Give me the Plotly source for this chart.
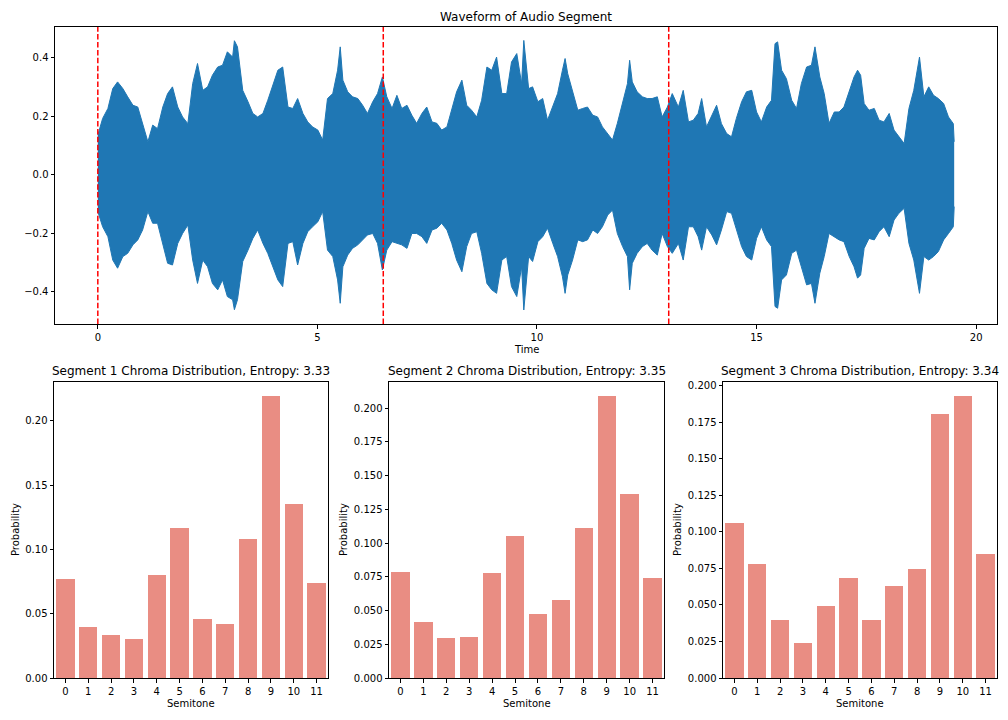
import plotly.graph_objects as go
from plotly.subplots import make_subplots

# ---------------- data ----------------
# waveform envelope (time in s, upper / lower amplitude)
wave_t = [0.00, 0.11, 0.23, 0.34, 0.45, 0.57, 0.68, 0.80, 0.91, 1.02, 1.14, 1.25, 1.36, 1.48, 1.59,
          1.70, 1.82, 1.93, 2.05, 2.16, 2.27, 2.39, 2.50, 2.61, 2.73, 2.84, 2.95, 3.07, 3.11, 3.18,
          3.30, 3.42, 3.53, 3.64, 3.76, 3.87, 3.99, 4.10, 4.21, 4.33, 4.44, 4.55, 4.67, 4.78, 4.89,
          5.01, 5.12, 5.23, 5.35, 5.46, 5.52, 5.58, 5.69, 5.80, 5.92, 6.03, 6.14, 6.26, 6.37, 6.48,
          6.58, 6.70, 6.81, 6.92, 7.04, 7.15, 7.26, 7.38, 7.49, 7.61, 7.72, 7.83, 7.95, 8.06, 8.17,
          8.29, 8.40, 8.51, 8.63, 8.74, 8.86, 8.97, 9.08, 9.20, 9.31, 9.42, 9.54, 9.65, 9.70, 9.81,
          9.90, 10.02, 10.13, 10.24, 10.36, 10.47, 10.58, 10.64, 10.70, 10.81, 10.93, 11.04, 11.15,
          11.27, 11.38, 11.49, 11.61, 11.72, 11.83, 11.95, 12.06, 12.11, 12.17, 12.28, 12.40, 12.51,
          12.62, 12.74, 12.85, 12.97, 13.08, 13.22, 13.33, 13.45, 13.56, 13.67, 13.75, 13.86, 13.98,
          14.09, 14.20, 14.32, 14.43, 14.54, 14.66, 14.77, 14.89, 15.00, 15.11, 15.23, 15.34, 15.42,
          15.48, 15.57, 15.68, 15.80, 15.91, 16.02, 16.14, 16.25, 16.33, 16.44, 16.54, 16.65, 16.77,
          16.88, 16.99, 17.11, 17.22, 17.30, 17.37, 17.45, 17.56, 17.68, 17.79, 17.90, 18.02, 18.13,
          18.24, 18.36, 18.47, 18.58, 18.71, 18.81, 18.92, 19.03, 19.14, 19.26, 19.37, 19.48, 19.50]
wave_upper = [0.136, 0.193, 0.227, 0.295, 0.318, 0.295, 0.267, 0.238, 0.232, 0.175, 0.113, 0.170, 0.158, 0.232, 0.278,
              0.301, 0.232, 0.198, 0.175, 0.312, 0.381, 0.289, 0.301, 0.341, 0.369, 0.375, 0.421, 0.403, 0.459, 0.438,
              0.289, 0.250, 0.210, 0.198, 0.210, 0.255, 0.307, 0.358, 0.369, 0.232, 0.227, 0.261, 0.210, 0.181, 0.164,
              0.153, 0.119, 0.261, 0.278, 0.358, 0.438, 0.324, 0.284, 0.267, 0.261, 0.238, 0.210, 0.250, 0.278, 0.335,
              0.267, 0.227, 0.272, 0.227, 0.238, 0.204, 0.176, 0.210, 0.232, 0.181, 0.176, 0.153, 0.164, 0.227, 0.284,
              0.324, 0.238, 0.221, 0.198, 0.255, 0.369, 0.358, 0.403, 0.278, 0.278, 0.386, 0.415, 0.312, 0.460, 0.295,
              0.301, 0.250, 0.261, 0.187, 0.232, 0.278, 0.358, 0.398, 0.346, 0.289, 0.221, 0.227, 0.232,
              0.204, 0.198, 0.164, 0.141, 0.119, 0.176, 0.250, 0.312, 0.392, 0.318, 0.284, 0.267, 0.261,
              0.261, 0.267, 0.198, 0.232, 0.278, 0.232, 0.289, 0.181, 0.187, 0.210, 0.261, 0.164, 0.204,
              0.238, 0.175, 0.141, 0.130, 0.193, 0.250, 0.284, 0.289, 0.215, 0.181, 0.232, 0.255, 0.449,
              0.455, 0.358, 0.329, 0.255, 0.227, 0.312, 0.369, 0.375, 0.438, 0.335, 0.278, 0.176, 0.215,
              0.215, 0.232, 0.289, 0.335, 0.358, 0.341, 0.244, 0.221, 0.227, 0.187, 0.181, 0.210, 0.153,
              0.130, 0.107, 0.227, 0.289, 0.403, 0.267, 0.301, 0.272, 0.261, 0.244, 0.198, 0.175, 0.113]
wave_lower = [-0.126, -0.178, -0.212, -0.292, -0.320, -0.280, -0.269, -0.240, -0.223, -0.189, -0.126, -0.166, -0.166, -0.240, -0.303,
              -0.309, -0.235, -0.201, -0.172, -0.292, -0.372, -0.292, -0.315, -0.372, -0.394, -0.360, -0.417, -0.428, -0.462, -0.428,
              -0.297, -0.258, -0.218, -0.189, -0.235, -0.269, -0.315, -0.360, -0.383, -0.235, -0.229, -0.309, -0.235, -0.195, -0.178,
              -0.161, -0.126, -0.258, -0.280, -0.360, -0.440, -0.315, -0.275, -0.252, -0.240, -0.223, -0.206, -0.201, -0.235, -0.326,
              -0.258, -0.229, -0.235, -0.240, -0.252, -0.201, -0.201, -0.212, -0.235, -0.189, -0.183, -0.166, -0.189, -0.235, -0.292,
              -0.332, -0.246, -0.201, -0.195, -0.269, -0.372, -0.394, -0.406, -0.292, -0.280, -0.383, -0.417, -0.315, -0.463, -0.280,
              -0.297, -0.229, -0.212, -0.183, -0.235, -0.280, -0.349, -0.406, -0.343, -0.292, -0.223, -0.229, -0.223,
              -0.189, -0.201, -0.178, -0.138, -0.121, -0.201, -0.246, -0.280, -0.394, -0.303, -0.269, -0.246, -0.235,
              -0.258, -0.275, -0.201, -0.246, -0.269, -0.235, -0.292, -0.178, -0.178, -0.212, -0.258, -0.178, -0.206,
              -0.240, -0.189, -0.126, -0.132, -0.183, -0.246, -0.280, -0.292, -0.218, -0.178, -0.223, -0.246, -0.451,
              -0.457, -0.360, -0.343, -0.269, -0.258, -0.315, -0.377, -0.372, -0.440, -0.337, -0.280, -0.201, -0.212,
              -0.223, -0.229, -0.280, -0.315, -0.354, -0.343, -0.252, -0.218, -0.223, -0.195, -0.178, -0.212, -0.155,
              -0.132, -0.115, -0.235, -0.292, -0.406, -0.280, -0.292, -0.280, -0.263, -0.223, -0.201, -0.178, -0.109]
segment_bounds = [0.0, 6.5, 13.0]

semitones = ["0", "1", "2", "3", "4", "5", "6", "7", "8", "9", "10", "11"]
seg1_prob = [0.0771, 0.0398, 0.0336, 0.0305, 0.0802, 0.1167, 0.0461, 0.0422, 0.1082, 0.2191, 0.1353, 0.0740]
seg2_prob = [0.0787, 0.0417, 0.0298, 0.0306, 0.0779, 0.1053, 0.0476, 0.0580, 0.1112, 0.2089, 0.1364, 0.0742]
seg3_prob = [0.1062, 0.0781, 0.0399, 0.0241, 0.0494, 0.0686, 0.0399, 0.0631, 0.0747, 0.1806, 0.1929, 0.0850]
entropies = [3.33, 3.35, 3.34]

# ---------------- figure ----------------
W, H = 1008, 720
FONT = "DejaVu Sans"
BLUE = "#1f77b4"
BAR = "#E98D83"

fig = make_subplots(rows=2, cols=3, specs=[[{"colspan": 3}, None, None], [{}, {}, {}]])

fig.add_trace(go.Scatter(x=wave_t, y=wave_upper, mode="lines", line=dict(color=BLUE, width=1),
                         hoverinfo="skip", showlegend=False), row=1, col=1)
fig.add_trace(go.Scatter(x=wave_t, y=wave_lower, mode="lines", line=dict(color=BLUE, width=1),
                         fill="tonexty", fillcolor=BLUE, hoverinfo="skip", showlegend=False), row=1, col=1)
for b in segment_bounds:
    fig.add_vline(x=b, line=dict(color="red", width=1.5, dash="5.5px,2.4px"), row=1, col=1)

for i, probs in enumerate([seg1_prob, seg2_prob, seg3_prob]):
    fig.add_trace(go.Bar(x=list(range(12)), y=probs, width=0.8, marker=dict(color=BAR, line=dict(width=0)),
                         showlegend=False), row=2, col=i + 1)

def px(x):
    return x / W

def py(y):
    return 1 - y / H

axis_common = dict(showline=True, linecolor="black", linewidth=1, mirror=True, ticks="outside",
                   ticklen=3.5, tickwidth=1, tickcolor="black", showgrid=False, zeroline=False,
                   automargin=False, tickfont=dict(family=FONT, size=10, color="black"))

fig.update_layout(
    width=W, height=H, margin=dict(l=0, r=0, t=0, b=0, pad=0, autoexpand=False),
    plot_bgcolor="white", paper_bgcolor="white", bargap=0,
    font=dict(family=FONT, size=10, color="black"),
    xaxis=dict(domain=[px(55), px(997)], range=[-0.975, 20.475], tickvals=[0, 5, 10, 15, 20], **axis_common),
    yaxis=dict(domain=[py(324), py(27)], range=[-0.511, 0.506], tickvals=[-0.4, -0.2, 0.0, 0.2, 0.4],
               tickformat=".1f", **axis_common),
)

bx = [(54, 328), (389, 664), (723, 997)]
ydt = [0.05, 0.025, 0.025]
yfmt = [".2f", ".3f", ".3f"]
for i, probs in enumerate([seg1_prob, seg2_prob, seg3_prob]):
    n = i + 2
    fig.layout[f"xaxis{n}"].update(domain=[px(bx[i][0]), px(bx[i][1])], range=[-0.5, 11.5],
                                   tickvals=list(range(12)), ticktext=semitones, **axis_common)
    fig.layout[f"yaxis{n}"].update(domain=[py(678), py(382)], range=[0, max(probs) * 1.05],
                                   tick0=0, dtick=ydt[i], tickformat=yfmt[i], **axis_common)

ann = []
ann.append(dict(text="Waveform of Audio Segment", x=px(526), y=py(17), font=dict(size=12)))
ann.append(dict(text="Time", x=px(526), y=py(349), font=dict(size=10)))
ylab_x = [15, 343, 677]
for i in range(3):
    cx = (bx[i][0] + bx[i][1]) / 2
    ann.append(dict(text=f"Segment {i + 1} Chroma Distribution, Entropy: {entropies[i]:.2f}",
                    x=px(cx), y=py(371), font=dict(size=12)))
    ann.append(dict(text="Semitone", x=px(cx), y=py(703), font=dict(size=10)))
    ann.append(dict(text="Probability", x=px(ylab_x[i]), y=py(530), textangle=-90, font=dict(size=10)))
for a in ann:
    a.update(xref="paper", yref="paper", showarrow=False, xanchor="center", yanchor="middle")
    a["font"].update(family=FONT, color="black")
fig.update_layout(annotations=ann)

fig.write_html("out.html")
